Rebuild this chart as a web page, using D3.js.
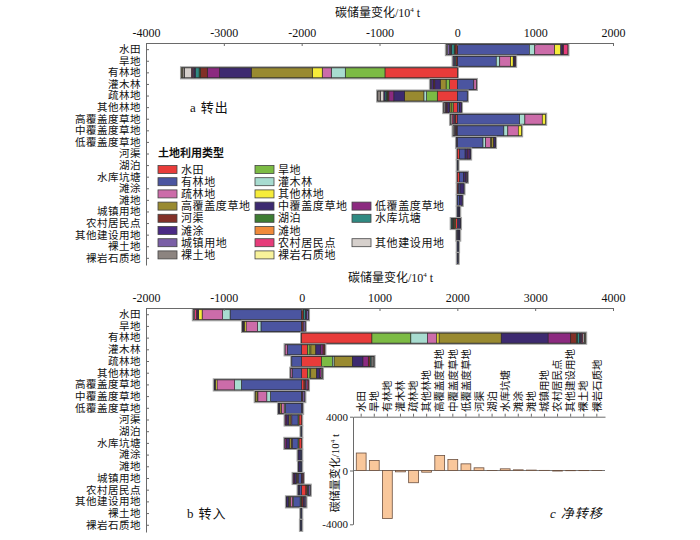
<!DOCTYPE html>
<html><head><meta charset="utf-8">
<script src="https://cdn.jsdelivr.net/npm/d3@7"></script>
<style>
body{margin:0;background:#fff}
text{font-family:"Liberation Serif","Noto Sans CJK SC",serif;fill:#111}
</style>
</head><body>
<svg id="chart" width="700" height="540"></svg>
<script>
// ---------------- data ----------------
const types = ['水田','旱地','有林地','灌木林','疏林地','其他林地','高覆盖度草地','中覆盖度草地','低覆盖度草地','河渠','湖泊','水库坑塘','滩涂','滩地','城镇用地','农村居民点','其他建设用地','裸土地','裸岩石质地'];
const typeColors = ['#e83c3a','#7cbb44','#4b55a0','#a8dcd0','#cc6ca9','#f6ec3a','#998a30','#3d2a70','#8c2a80','#823028','#3e7d32','#2f8a82','#4a2a84','#f08a3a','#7a5fa6','#e63c7a','#d6d0cc','#8c8480','#f8f29a'];

// a 转出: row = source type, columns = destination type (order of `types`)
const outValues = [
 [0,0,925,70,255,80,0,25,10,-30,-10,-35,-15,-10,-25,55,-15,0,0],
 [0,0,500,45,140,33,0,20,10,-20,0,-15,0,0,-18,0,0,0,0],
 [-930,-510,0,-180,-116,-128,-784,-407,-158,-90,-15,-50,-15,-5,-15,-15,-90,-25,-10],
 [-100,-45,212,0,31,0,-75,-70,0,-20,0,0,-20,0,-15,0,0,0,0],
 [-258,-138,127,-34,0,0,-249,-137,-64,-20,-10,-20,-15,0,0,0,-42,-35,0],
 [-55,-25,28,0,5,0,-20,-25,-15,-10,0,0,20,0,-10,0,-13,0,0],
 [-20,0,800,68,223,43,0,0,0,-15,0,0,0,0,-20,-15,-17,0,0],
 [-10,0,598,51,134,42,0,0,0,-15,0,0,0,0,-15,0,-13,0,0],
 [0,0,330,33,65,10,30,22,0,0,0,0,0,0,-10,0,0,0,0],
 [30,0,70,0,0,0,0,30,20,0,0,0,20,0,0,0,0,0,0],
 [0,0,8,0,0,0,0,0,0,0,0,0,0,0,0,0,0,0,0],
 [30,0,50,0,0,0,0,25,10,0,0,0,0,0,13,0,0,0,0],
 [15,0,20,0,0,0,0,50,0,0,0,0,0,0,0,0,0,0,0],
 [0,0,30,0,0,0,0,32,0,0,0,0,0,0,0,0,0,0,0],
 [0,0,15,0,0,0,0,15,0,0,0,0,0,0,0,0,0,0,0],
 [-25,-10,20,0,0,0,-15,20,0,-13,0,-15,0,0,0,0,0,0,0],
 [0,0,15,0,0,0,0,15,0,0,0,0,0,0,-5,0,0,0,0],
 [0,0,15,0,0,0,0,0,0,0,0,0,0,0,0,0,0,0,0],
 [0,0,10,0,0,0,0,0,0,0,0,0,0,0,0,0,0,0,0]
];

// b 转入: row = destination type, columns = source type
const inValues = [
 [0,0,-920,-95,-264,-44,0,-15,-13,25,0,25,15,0,22,-25,-15,0,0],
 [0,0,-523,-43,-149,-20,-10,-14,0,20,0,0,0,0,25,0,0,0,0],
 [903,500,0,212,122,29,798,603,290,73,15,28,15,5,10,12,20,8,5],
 [76,31,-185,0,-27,12,63,64,29,22,0,0,0,0,0,0,0,0,0],
 [254,141,-126,22,0,0,234,137,68,25,0,15,0,0,0,0,20,13,0],
 [76,31,-122,10,-17,0,75,40,20,0,0,0,0,0,0,0,15,0,0],
 [30,0,-775,-86,-227,-22,0,-12,0,20,0,0,0,0,20,17,0,0,0],
 [0,0,-401,-47,-115,-8,-25,0,0,15,0,0,0,0,25,0,0,0,0],
 [0,0,-210,-15,-38,0,-20,-14,0,0,0,0,0,0,12,0,0,0,0],
 [-35,-12,-80,0,-12,0,-25,-30,-18,0,0,0,0,0,0,0,0,0,0],
 [0,0,-8,0,0,0,0,0,0,0,0,0,0,0,0,0,0,0,0],
 [-35,-12,-75,0,-10,0,-28,-35,-20,0,0,0,0,0,0,0,0,0,0],
 [0,0,-20,0,0,0,0,-25,0,0,0,0,0,0,0,0,0,0,0],
 [0,0,-20,0,0,0,0,-20,0,0,0,0,0,0,0,0,0,0,0],
 [0,0,-45,0,-10,0,-15,-25,-14,10,0,0,0,0,0,10,0,0,0],
 [55,0,-30,0,0,0,0,-15,0,20,0,15,0,0,19,0,0,0,0],
 [-8,-12,-86,-10,-30,-9,-15,-25,0,20,0,0,14,0,20,0,0,0,0],
 [0,0,-10,0,0,0,0,0,0,0,0,0,0,0,0,0,0,0,0],
 [0,0,-15,0,0,0,0,0,0,0,0,0,0,0,0,0,0,0,0]
];

// c 净转移
const netValues = [1300,740,-3575,-100,-910,-125,1110,815,495,200,5,125,50,30,10,-40,-15,-10,5];

const ticksA = [-4000,-3000,-2000,-1000,0,1000,2000];
const ticksB = [-2000,-1000,0,1000,2000,3000,4000];
const ticksC = [-4000,0,4000];

// legend slot (column,row) for each type
const legendCol = [0,1,0,1,0,1,0,1,2,0,1,2,0,1,0,1,2,0,1];
const legendRow = [0,0,1,1,2,2,3,3,3,4,4,4,5,5,6,6,6,7,7];

// ---------------- drawing ----------------
const svg = d3.select('#chart');
svg.append('rect').attr('width',700).attr('height',540).attr('fill','#fff');

function styleAxis(g, fs, ls){
  g.selectAll('.domain').attr('stroke','#6a6a6a').attr('stroke-width',1);
  g.selectAll('.tick line').attr('stroke','#6a6a6a');
  g.selectAll('.tick text').attr('font-size',fs).attr('letter-spacing',ls||0)
    .attr('font-family','"Liberation Serif","Noto Sans CJK SC",serif').attr('fill','#111');
}

function axisTitle(x, y){
  const t = svg.append('text').attr('x',x).attr('y',y).attr('font-size',12);
  t.append('tspan').text('碳储量变化/10');
  t.append('tspan').attr('font-size',7).attr('dy',-5).text('4');
  t.append('tspan').attr('dy',5).text(' t');
  return t;
}

function drawPanel(matrix, xDomain, ticks, yTop, yBottom, titleX, titleY){
  const x = d3.scaleLinear().domain(xDomain).range([146,613]);
  const y = d3.scaleBand().domain(types).range([yTop,yBottom]).padding(0.15);
  const g = svg.append('g');
  matrix.forEach((row,i)=>{
    let pos=0, neg=0;
    const segs=[];
    row.forEach((v,j)=>{
      if(v>0){ segs.push({j, a:pos, b:pos+v}); pos+=v; }
      else if(v<0){ segs.push({j, a:neg+v, b:neg}); neg+=v; }
    });
    if(!segs.length) return;
    const yy = y(types[i]), h = y.bandwidth();
    g.append('rect')
      .attr('x', x(neg)-1).attr('y', yy-1)
      .attr('width', x(pos)-x(neg)+2).attr('height', h+2)
      .attr('fill','#2a2a2a').attr('stroke','#a0a0a0').attr('stroke-width',1.2);
    g.selectAll(null).data(segs).enter().append('rect')
      .attr('x', d=>x(d.a)).attr('y', yy)
      .attr('width', d=>Math.max(0.01, x(d.b)-x(d.a))).attr('height', h)
      .attr('fill', d=>typeColors[d.j])
      .attr('stroke','#2d2d2d').attr('stroke-width',0.6);
  });
  const ax = svg.append('g').attr('transform',`translate(0,${yTop})`)
    .call(d3.axisTop(x).tickValues(ticks).tickSize(-3).tickSizeOuter(0).tickPadding(6).tickFormat(d=>String(d)));
  styleAxis(ax, 12);
  const ay = svg.append('g').attr('transform','translate(146,0)')
    .call(d3.axisLeft(y).tickSize(-3).tickSizeOuter(0).tickPadding(5));
  styleAxis(ay, 10.5, 0.5);
  axisTitle(titleX, titleY);
}

drawPanel(outValues, [-4000,2000], ticksA, 43, 265, 335, 17);
drawPanel(inValues, [-2000,4000], ticksB, 308, 532, 348, 282);

// panel labels
function panelLabel(x, y, letter, name, italic){
  const t = svg.append('text').attr('x',x).attr('y',y).attr('font-size',13);
  if(italic) t.attr('font-style','italic');
  t.append('tspan').text(letter);
  t.append('tspan').attr('dx',5).attr('letter-spacing',1).text(name);
}
panelLabel(190, 112, 'a', '转出');
panelLabel(187, 518, 'b', '转入');
panelLabel(550, 518, 'c', '净转移', true);

// legend
const lg = svg.append('g');
lg.append('text').attr('x',158).attr('y',157).attr('font-size',11).attr('font-weight','bold')
  .attr('font-family','"Noto Sans CJK SC",sans-serif').text('土地利用类型');
const colX = [158,255,352], row0 = 165.5, rowStep = 12.2;
types.forEach((t,i)=>{
  const lx = colX[legendCol[i]], ly = row0 + legendRow[i]*rowStep;
  lg.append('rect').attr('x',lx).attr('y',ly).attr('width',19).attr('height',8)
    .attr('fill',typeColors[i]).attr('stroke','#444').attr('stroke-width',0.8);
  lg.append('text').attr('x',lx+23).attr('y',ly+8).attr('font-size',11).attr('letter-spacing',0.6).text(t);
});

// inset c
const xC = d3.scaleBand().domain(types).range([353,605]).padding(0.25);
const yC = d3.scaleLinear().domain([-4000,4000]).range([524.3,416.7]);
const gc = svg.append('g');
gc.append('line').attr('x1',353).attr('x2',605).attr('y1',yC(0)).attr('y2',yC(0)).attr('stroke','#777');
gc.selectAll(null).data(netValues).enter().append('rect')
  .attr('x',(d,i)=>xC(types[i])).attr('width',xC.bandwidth())
  .attr('y',d=>yC(Math.max(0,d))).attr('height',d=>Math.abs(yC(d)-yC(0)))
  .attr('fill','#f9c79b').attr('stroke','#6b5040').attr('stroke-width',0.8);
const axC = gc.append('g').attr('transform','translate(353,0)')
  .call(d3.axisLeft(yC).tickValues(ticksC).tickSize(3).tickSizeOuter(0).tickPadding(2).tickFormat(d=>String(d)));
styleAxis(axC, 11);
const axCt = gc.append('g').attr('transform',`translate(0,${yC(4000)})`)
  .call(d3.axisTop(xC).tickSize(3).tickSizeOuter(0).tickFormat(''));
styleAxis(axCt, 10);
types.forEach((t,i)=>{
  gc.append('text')
    .attr('transform',`translate(${xC(types[i])+xC.bandwidth()/2},412) rotate(-90)`)
    .attr('dy','0.35em').attr('font-size',10.5).attr('text-anchor','start').text(t);
});
const yl = gc.append('text').attr('transform','translate(335,473) rotate(-90)')
  .attr('text-anchor','middle').attr('dy','0.35em').attr('font-size',11);
yl.append('tspan').text('碳储量变化/10');
yl.append('tspan').attr('font-size',7).attr('dy',-4).text('4');
yl.append('tspan').attr('dy',4).text(' t');
</script>
</body></html>
